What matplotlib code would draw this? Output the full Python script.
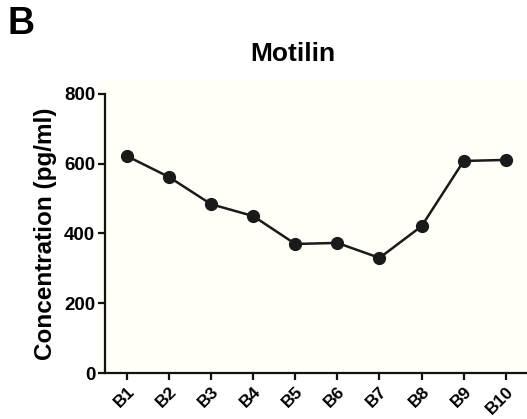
import matplotlib.pyplot as plt
from matplotlib.patches import Rectangle

plt.rcParams['font.family'] = ['Liberation Sans', 'DejaVu Sans']
plt.rcParams['font.weight'] = 'bold'

samples = ['B1', 'B2', 'B3', 'B4', 'B5', 'B6', 'B7', 'B8', 'B9', 'B10']
motilin = [622, 562, 484, 450, 370, 373, 330, 421, 608, 611]
yticks = [0, 200, 400, 600, 800]

fig = plt.figure(figsize=(5.27, 4.19), dpi=100)
fig.patch.set_facecolor('white')

# pale panel behind the plot
fig.patches.append(Rectangle((97 / 527, 47 / 419), 430 / 527, 292 / 419,
                             transform=fig.transFigure, facecolor='#fffef7',
                             edgecolor='none', zorder=-5))

ax = fig.add_axes([105 / 527, 46 / 419, 421 / 527, 279 / 419])
ax.set_facecolor('none')
ax.set_zorder(2)

x = list(range(len(samples)))
ax.plot(x, motilin, color='#1a1a1a', lw=1.8, marker='o', ms=8.5,
        mfc='#1a1a1a', mec='#1a1a1a', clip_on=False, zorder=3)

ax.set_xlim(-0.52, 9.48)
ax.set_ylim(0, 800)
ax.set_yticks(yticks)
ax.set_xticks(x)
ax.set_xticklabels(samples, rotation=45, ha='right', rotation_mode='anchor')

for side in ['top', 'right']:
    ax.spines[side].set_visible(False)
for side in ['left', 'bottom']:
    ax.spines[side].set_linewidth(1.6)
    ax.spines[side].set_color('#111111')

ax.tick_params(axis='both', direction='out', length=5, width=1.6,
               color='#111111', labelsize=13.5)
ax.tick_params(axis='x', pad=3, labelsize=12.5)
ax.tick_params(axis='y', pad=2)

ax.set_ylabel('Concentration (pg/ml)', fontsize=17.5, fontweight='bold', labelpad=5)

fig.text(293 / 527, 1 - 54 / 419, 'Motilin', ha='center', va='center',
         fontsize=19, fontweight='bold')
fig.text(8 / 527, 1 - 24 / 419, 'B', ha='left', va='center',
         fontsize=27, fontweight='bold')

fig.savefig('out.png', dpi=100, facecolor='white')
